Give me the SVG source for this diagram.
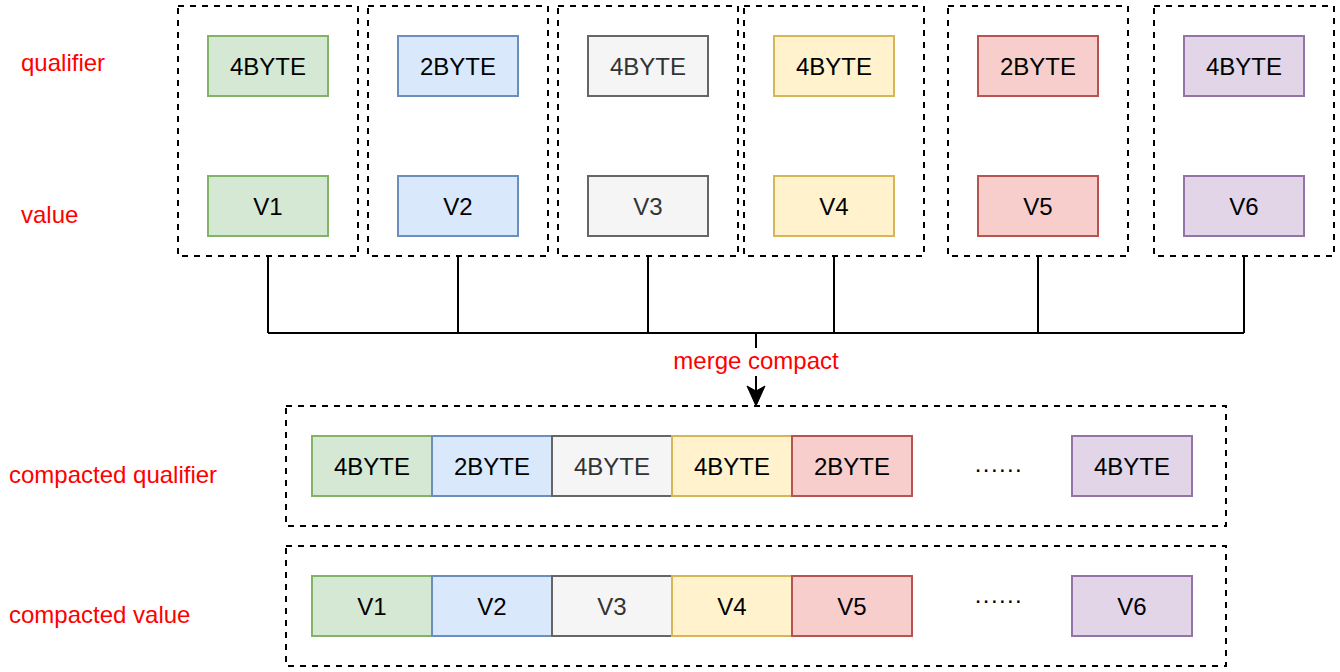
<svg xmlns="http://www.w3.org/2000/svg" width="1340" height="672" viewBox="0 0 1340 672">
<style>
text{font-family:"Liberation Sans",Arial,Helvetica,sans-serif;font-size:24px}
.lbl{fill:#ff0000}
.c{text-anchor:middle;fill:#000}
.cg{text-anchor:middle;fill:#333333}
.grp{fill:none;stroke:#000;stroke-width:2;stroke-dasharray:6 6}
.b{stroke-width:2}
.g{fill:#d5e8d4;stroke:#82b366}
.bl{fill:#dae8fc;stroke:#6c8ebf}
.gy{fill:#f5f5f5;stroke:#666666}
.y{fill:#fff2cc;stroke:#d6b656}
.r{fill:#f8cecc;stroke:#b85450}
.p{fill:#e1d5e7;stroke:#9673a6}
.ln{fill:none;stroke:#000;stroke-width:2}
.dots{text-anchor:middle;fill:#000;letter-spacing:1.4px}
</style>
<rect width="1340" height="672" fill="#fff"/>
<g id="labels">
<text class="lbl" x="21" y="71">qualifier</text>
<text class="lbl" x="21" y="223">value</text>
<text class="lbl" x="9" y="483">compacted qualifier</text>
<text class="lbl" x="9" y="623">compacted value</text>
</g>
<g id="group1"><rect class="grp" x="178" y="6" width="180" height="250"/>
<rect class="b g" x="208" y="36" width="120" height="60"/><text class="c" x="268" y="75">4BYTE</text>
<rect class="b g" x="208" y="176" width="120" height="60"/><text class="c" x="268" y="215">V1</text></g>
<g id="group2"><rect class="grp" x="368" y="6" width="180" height="250"/>
<rect class="b bl" x="398" y="36" width="120" height="60"/><text class="c" x="458" y="75">2BYTE</text>
<rect class="b bl" x="398" y="176" width="120" height="60"/><text class="c" x="458" y="215">V2</text></g>
<g id="group3"><rect class="grp" x="558" y="6" width="180" height="250"/>
<rect class="b gy" x="588" y="36" width="120" height="60"/><text class="cg" x="648" y="75">4BYTE</text>
<rect class="b gy" x="588" y="176" width="120" height="60"/><text class="cg" x="648" y="215">V3</text></g>
<g id="group4"><rect class="grp" x="744" y="6" width="180" height="250"/>
<rect class="b y" x="774" y="36" width="120" height="60"/><text class="c" x="834" y="75">4BYTE</text>
<rect class="b y" x="774" y="176" width="120" height="60"/><text class="c" x="834" y="215">V4</text></g>
<g id="group5"><rect class="grp" x="948" y="6" width="180" height="250"/>
<rect class="b r" x="978" y="36" width="120" height="60"/><text class="c" x="1038" y="75">2BYTE</text>
<rect class="b r" x="978" y="176" width="120" height="60"/><text class="c" x="1038" y="215">V5</text></g>
<g id="group6"><rect class="grp" x="1154" y="6" width="180" height="250"/>
<rect class="b p" x="1184" y="36" width="120" height="60"/><text class="c" x="1244" y="75">4BYTE</text>
<rect class="b p" x="1184" y="176" width="120" height="60"/><text class="c" x="1244" y="215">V6</text></g>
<g id="connectors">
<path class="ln" d="M268,256V333M458,256V333M648,256V333M834,256V333M1038,256V333M1244,256V333M268,333H1244M756,333V392"/>
<path d="M756,406L747,386L756,391L765,386Z" fill="#000" stroke="#000" stroke-width="1"/>
<rect x="672" y="348" width="168" height="28" fill="#fff"/>
<text class="lbl" x="756" y="369" text-anchor="middle">merge compact</text>
</g>
<g id="compacted-qualifier"><rect class="grp" x="286" y="406" width="940" height="120"/>
<rect class="b g" x="312" y="436" width="120" height="60"/><text class="c" x="372" y="475">4BYTE</text>
<rect class="b bl" x="432" y="436" width="120" height="60"/><text class="c" x="492" y="475">2BYTE</text>
<rect class="b gy" x="552" y="436" width="120" height="60"/><text class="cg" x="612" y="475">4BYTE</text>
<rect class="b y" x="672" y="436" width="120" height="60"/><text class="c" x="732" y="475">4BYTE</text>
<rect class="b r" x="792" y="436" width="120" height="60"/><text class="c" x="852" y="475">2BYTE</text>
<text class="dots" x="999" y="472">......</text>
<rect class="b p" x="1072" y="436" width="120" height="60"/><text class="c" x="1132" y="475">4BYTE</text></g>
<g id="compacted-value"><rect class="grp" x="286" y="546" width="940" height="120"/>
<rect class="b g" x="312" y="576" width="120" height="60"/><text class="c" x="372" y="615">V1</text>
<rect class="b bl" x="432" y="576" width="120" height="60"/><text class="c" x="492" y="615">V2</text>
<rect class="b gy" x="552" y="576" width="120" height="60"/><text class="cg" x="612" y="615">V3</text>
<rect class="b y" x="672" y="576" width="120" height="60"/><text class="c" x="732" y="615">V4</text>
<rect class="b r" x="792" y="576" width="120" height="60"/><text class="c" x="852" y="615">V5</text>
<text class="dots" x="999" y="603">......</text>
<rect class="b p" x="1072" y="576" width="120" height="60"/><text class="c" x="1132" y="615">V6</text></g>
</svg>
